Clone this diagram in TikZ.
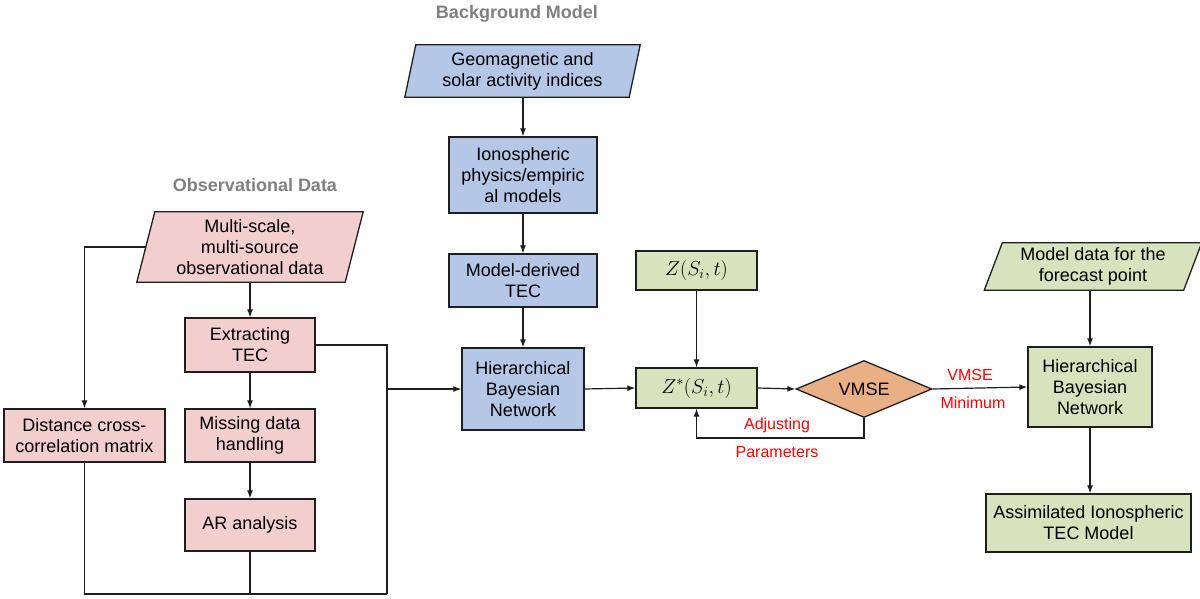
\documentclass[tikz,border=0pt]{standalone}
\usepackage{fontspec}
\setmainfont{Liberation Sans}
\usetikzlibrary{shapes.geometric,arrows.meta,backgrounds}
\definecolor{pinkf}{RGB}{243,206,206}
\definecolor{bluef}{RGB}{180,199,231}
\definecolor{greenf}{RGB}{214,227,188}
\definecolor{orangef}{RGB}{233,176,134}
\definecolor{edgec}{RGB}{30,30,30}
\definecolor{titlec}{RGB}{128,128,128}
\tikzset{
  box/.style={draw=edgec, line width=1.3pt, align=center, inner sep=0pt,
    font=\fontsize{18}{21}\selectfont},
  pbox/.style={box, fill=pinkf},
  bbox/.style={box, fill=bluef},
  gbox/.style={box, fill=greenf},
  para/.style={align=center, inner sep=0pt, font=\fontsize{18}{21}\selectfont},
  ttl/.style={font=\fontsize{18}{21}\selectfont\bfseries, text=titlec},
  redlbl/.style={font=\fontsize{16}{19}\selectfont, text=red},
  conn/.style={draw=edgec, line width=1.2pt},
  arr/.style={conn, -{Latex[length=8pt,width=6pt]}},
}
\begin{document}
\begin{tikzpicture}[x=1pt,y=-1pt]
\useasboundingbox (0,0) rectangle (1200,599);

% titles
\node[ttl] (tbg) at (517,14) {Background Model};
\node[ttl] (tobs) at (255,185) {Observational Data};

% observational column
\node[para, minimum width=208pt, minimum height=70pt] (multi) at (250,247) {Multi-scale,\\multi-source\\observational data};
\node[pbox, minimum width=130pt, minimum height=54pt] (extract) at (250,345) {Extracting\\TEC};
\node[pbox, minimum width=130pt, minimum height=53pt] (missing) at (250,435.5) {Missing data\\handling};
\node[pbox, minimum width=130pt, minimum height=52pt] (ar) at (250,525) {AR analysis};
\node[pbox, minimum width=161pt, minimum height=53pt] (dist) at (84.5,435.5) {Distance cross-\\correlation matrix};

% background model column
\node[para, minimum width=224pt, minimum height=52pt] (geo) at (522.5,71) {Geomagnetic and\\solar activity indices};
\node[bbox, minimum width=148pt, minimum height=76pt] (iono) at (523,175) {Ionospheric\\physics/empiric\\al models};
\node[bbox, minimum width=148pt, minimum height=53pt] (mdt) at (523,280.5) {Model-derived\\TEC};
\node[bbox, minimum width=122pt, minimum height=82pt] (hbn) at (523,389) {Hierarchical\\Bayesian\\Network};

% assimilation
\node[gbox, minimum width=121pt, minimum height=39pt] (z) at (696.5,270.5) {\scalebox{1.17}{$Z(S_i,t)$}};
\node[gbox, minimum width=121pt, minimum height=40pt] (zs) at (696.5,388) {\scalebox{1.17}{$Z^{*}(S_i,t)$}};
\node[box, diamond, fill=orangef, minimum width=136pt, minimum height=57pt, aspect=2.4] (vmse) at (864,389) {VMSE};

% right column
\node[para, minimum width=199pt, minimum height=47pt] (mdata) at (1093,266.5) {Model data for the\\forecast point};
\node[gbox, minimum width=124pt, minimum height=80pt] (hbn2) at (1090,387) {Hierarchical\\Bayesian\\Network};
\node[gbox, minimum width=205pt, minimum height=58pt] (assim) at (1088.5,523) {Assimilated Ionospheric\\TEC Model};

% parallelogram outlines
\begin{scope}[on background layer]
\draw[draw=edgec, line width=1.3pt, fill=pinkf]
  ([xshift=9pt]multi.north west) -- ([xshift=9pt]multi.north east) --
  ([xshift=-9pt]multi.south east) -- ([xshift=-9pt]multi.south west) -- cycle;
\draw[draw=edgec, line width=1.3pt, fill=bluef]
  ([xshift=5.5pt]geo.north west) -- ([xshift=5.5pt]geo.north east) --
  ([xshift=-5.5pt]geo.south east) -- ([xshift=-5.5pt]geo.south west) -- cycle;
\draw[draw=edgec, line width=1.3pt, fill=greenf]
  ([xshift=9pt]mdata.north west) -- ([xshift=9pt]mdata.north east) --
  ([xshift=-9pt]mdata.south east) -- ([xshift=-9pt]mdata.south west) -- cycle;
\end{scope}

% observational connectors
\draw[arr] (multi.south) -- (extract.north);
\draw[arr] (extract.south) -- (missing.north);
\draw[arr] (missing.south) -- (ar.north);
\draw[arr] (multi.west) -| (dist.north);
\coordinate (jR) at (387,594);
\draw[conn] (extract.east) -| (jR);
\draw[conn] (dist.south) |- (jR);
\draw[conn] (ar.south) -- (ar.south |- jR);
\draw[arr] (jR |- hbn.west) -- (hbn.west);

% background connectors
\draw[arr] (geo.south -| iono.north) -- (iono.north);
\draw[arr] (iono.south) -- (mdt.north);
\draw[arr] (mdt.south) -- (hbn.north);

% assimilation connectors
\draw[arr] (hbn.east) -- (zs.west);
\draw[arr] (z.south) -- (zs.north);
\draw[arr] (zs.east) -- (vmse.west);
\coordinate (fb) at (864,438);
\draw[arr] (vmse.south) -- (fb) -| (zs.south);
\node[redlbl] (adj) at (777,425) {Adjusting};
\node[redlbl] (par) at (777,452) {Parameters};

\draw[arr] (vmse.east) -- (hbn2.west);
\node[redlbl] (lv) at (970,375) {VMSE};
\node[redlbl] (lm) at (973,403) {Minimum};

\draw[arr] (hbn2.north |- mdata.south) -- (hbn2.north);
\draw[arr] (hbn2.south) -- (hbn2.south |- assim.north);
\end{tikzpicture}
\end{document}
